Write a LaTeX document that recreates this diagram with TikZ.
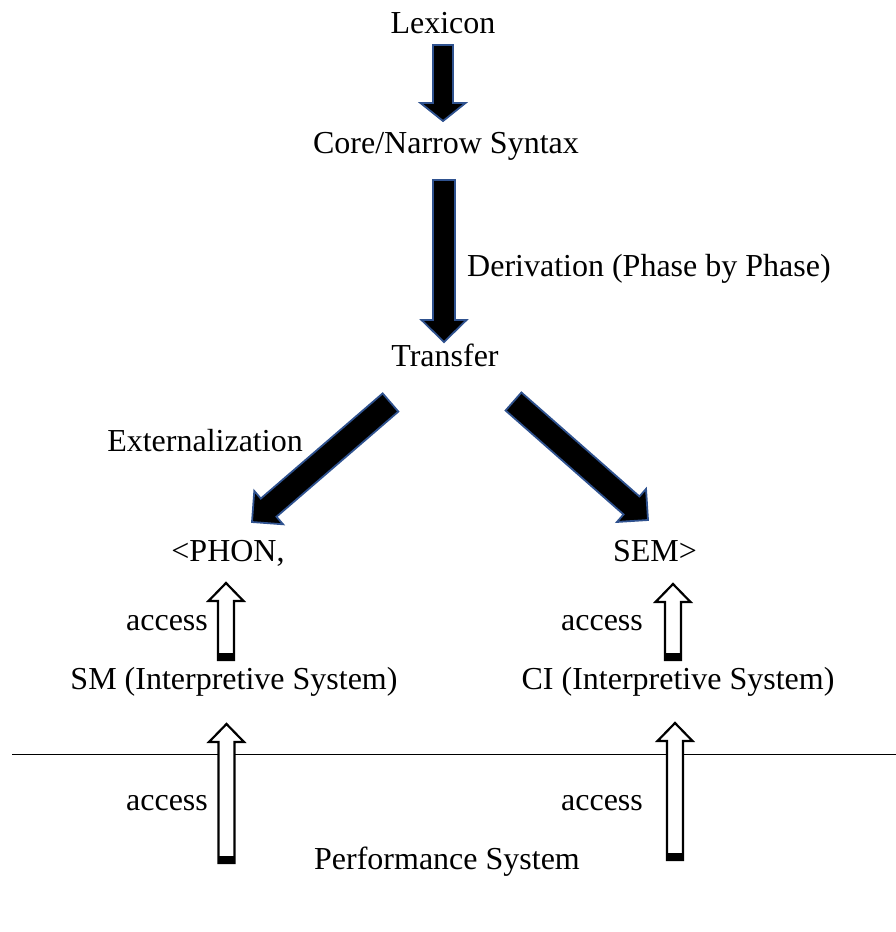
\documentclass[tikz,border=0pt]{standalone}
\usepackage{fontspec}
\setmainfont{Liberation Serif}
\usetikzlibrary{calc}
\definecolor{edgeblue}{HTML}{2F528F}
\tikzset{
  lbl/.style={inner sep=0pt, anchor=base, font=\fontsize{32}{38}\selectfont},
  blackarrow/.style={fill=black, draw=edgeblue, line width=1.8pt, line join=miter},
  whitearrow/.style={fill=white, draw=black, line width=2.2pt, line join=miter},
}
% #1 tail centre, #2 tip, #3 half shaft width, #4 half head width, #5 head length, #6 style
\newcommand\myblockarrow[6]{%
  \coordinate (hb) at ($(#2)!#5!(#1)$);
  \path[#6] ($(#1)!#3!90:(#2)$) -- ($(hb)!#3!-90:(#1)$) -- ($(hb)!#4!-90:(#1)$) -- (#2)
    -- ($(hb)!#4!90:(#1)$) -- ($(hb)!#3!90:(#1)$) -- ($(#1)!#3!-90:(#2)$) -- cycle;
}
% white up arrow with black foot: #1 bottom centre, #2 tip
\newcommand\mywhiteup[2]{%
  \myblockarrow{#1}{#2}{8pt}{17.5pt}{18pt}{whitearrow}
  \fill[black] ($(#1)+(-8pt,0)$) rectangle ($(#1)+(8pt,-7)$);
}
\begin{document}
\begin{tikzpicture}[x=1pt,y=-1pt]
\useasboundingbox (0,0) rectangle (896,932);
% texts
\node[lbl] (lex) at (443,33) {Lexicon};
\node[lbl] (core) at (446,153) {Core/Narrow Syntax};
\node[lbl, anchor=base west] (deriv) at (467,276) {Derivation (Phase by Phase)};
\node[lbl] (transfer) at (445,366) {Transfer};
\node[lbl] (ext) at (205,451) {Externalization};
\node[lbl] (phon) at (228,561) {<PHON,};
\node[lbl] (sem) at (655,561) {SEM>};
\node[lbl] (acc1) at (167,630) {access};
\node[lbl] (acc2) at (602,630) {access};
\node[lbl] (sm) at (234,689) {SM (Interpretive System)};
\node[lbl] (ci) at (678,689) {CI (Interpretive System)};
\node[lbl] (acc3) at (167,810) {access};
\node[lbl] (acc4) at (602,810) {access};
\node[lbl] (perf) at (447,869) {Performance System};
% horizontal line
\coordinate (lineL) at (12,754);
\coordinate (lineR) at (896,754);
\draw[line width=1pt] (lineL) -- (lineR);
% black arrows
\coordinate (a1s) at (443,45);   \coordinate (a1t) at (443,121);
\coordinate (a2s) at (444,180);  \coordinate (a2t) at (444,342);
\coordinate (a3s) at (390.5,402.5); \coordinate (a3t) at (252,522);
\coordinate (a4s) at (513.5,401.5); \coordinate (a4t) at (648,520);
\myblockarrow{a1s}{a1t}{10pt}{22.5pt}{18pt}{blackarrow}
\myblockarrow{a2s}{a2t}{11pt}{22.5pt}{22pt}{blackarrow}
\myblockarrow{a3s}{a3t}{12pt}{22pt}{22pt}{blackarrow}
\myblockarrow{a4s}{a4t}{12pt}{22pt}{22pt}{blackarrow}
% white arrows
\coordinate (w1s) at (226,660); \coordinate (w1t) at (226,583);
\coordinate (w2s) at (673,660); \coordinate (w2t) at (673,584);
\coordinate (w3s) at (226.5,863); \coordinate (w3t) at (226.5,724);
\coordinate (w4s) at (675,860); \coordinate (w4t) at (675,723);
\mywhiteup{w1s}{w1t}
\mywhiteup{w2s}{w2t}
\mywhiteup{w3s}{w3t}
\mywhiteup{w4s}{w4t}
\end{tikzpicture}
\end{document}
